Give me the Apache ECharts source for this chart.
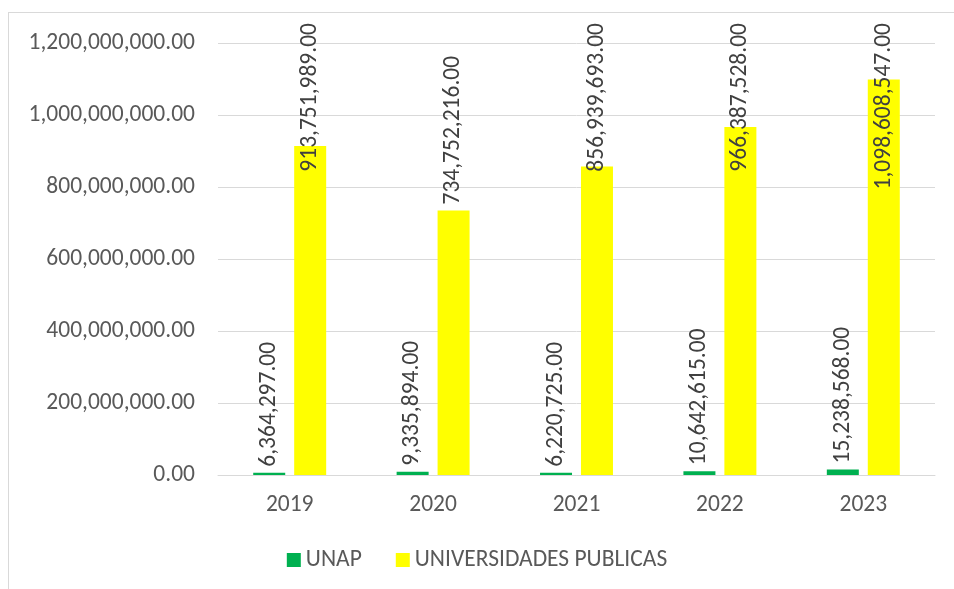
<!DOCTYPE html>
<html>
<head>
<meta charset="utf-8">
<script src="https://cdn.jsdelivr.net/npm/echarts@6/dist/echarts.min.js"></script>
<style>
  html, body { margin: 0; padding: 0; background: #fff; overflow: hidden; }
  #frame { position: absolute; left: 8px; top: 12px; width: 960px; height: 600px; border: 1px solid #d9d9d9; }
  #chart { position: absolute; left: 0; top: 0; width: 954px; height: 589px; }
</style>
</head>
<body>
<div id="frame"></div>
<div id="chart"></div>
<script>
// datos del gráfico
const years = ["2019", "2020", "2021", "2022", "2023"];
const unap = [6364297, 9335894, 6220725, 10642615, 15238568];
const publicas = [913751989, 734752216, 856939693, 966387528, 1098608547];
const seriesNames = ["UNAP", "UNIVERSIDADES PUBLICAS"];

const font = "Carlito, 'Liberation Sans', sans-serif";
const fs = 23.5;
const fmt = v => Number(v).toLocaleString("en-US", { minimumFractionDigits: 2, maximumFractionDigits: 2 });

const chart = echarts.init(document.getElementById("chart"));

const labelStyle = {
  show: true,
  position: "top",
  rotate: 90,
  align: "left",
  verticalAlign: "middle",
  distance: 6,
  color: "#404040",
  fontSize: fs,
  fontFamily: font,
  formatter: p => fmt(p.value)
};

// mantener las etiquetas dentro del área del gráfico (como Excel)
// la etiqueta está girada 90°, así que su eje x local apunta hacia arriba
const clampLabel = p => {
  const top = 23;
  const r = p.labelRect;
  return r.y < top ? { dx: -(top - r.y) } : {};
};

const option = {
  animation: false,
  grid: { left: 218, right: 19, top: 43, bottom: 114, containLabel: false },
  legend: {
    bottom: 12,
    left: "center",
    itemWidth: 14,
    itemHeight: 14,
    itemGap: 34,
    icon: "rect",
    textStyle: { color: "#595959", fontSize: fs, fontFamily: font },
    data: seriesNames
  },
  xAxis: {
    type: "category",
    data: years,
    axisTick: { show: false },
    axisLine: { lineStyle: { color: "#d9d9d9" } },
    axisLabel: { color: "#595959", fontSize: fs, fontFamily: font, margin: 18 }
  },
  yAxis: {
    type: "value",
    min: 0,
    max: 1200000000,
    interval: 200000000,
    axisLine: { show: false },
    axisTick: { show: false },
    splitLine: { lineStyle: { color: "#d9d9d9" } },
    axisLabel: { color: "#595959", fontSize: fs, fontFamily: font, margin: 23, formatter: v => fmt(v) }
  },
  series: [
    {
      name: seriesNames[0],
      type: "bar",
      data: unap,
      barWidth: 32,
      barGap: "28%",
      itemStyle: { color: "#00b050" },
      label: labelStyle,
      labelLayout: clampLabel
    },
    {
      name: seriesNames[1],
      type: "bar",
      data: publicas,
      barWidth: 32,
      itemStyle: { color: "#ffff00" },
      label: labelStyle,
      labelLayout: clampLabel
    }
  ]
};

chart.setOption(option);
</script>
</body>
</html>
